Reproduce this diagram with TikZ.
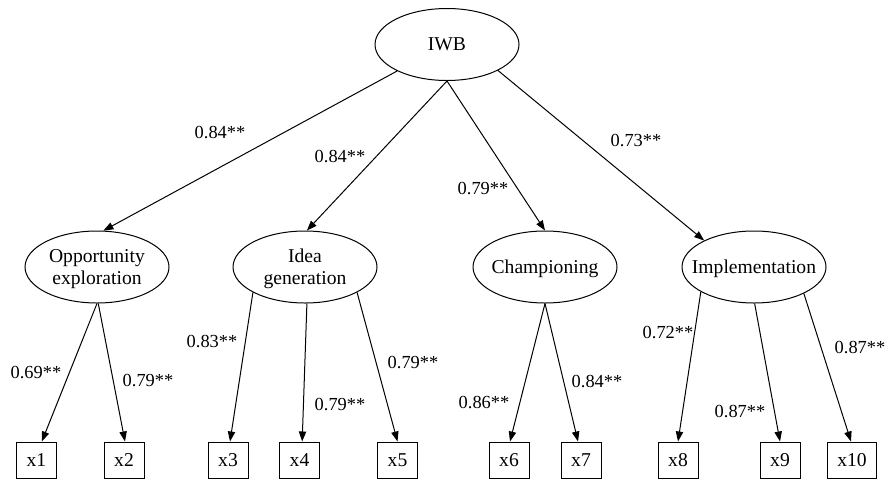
\documentclass[tikz,border=0pt]{standalone}
\usepackage{fontspec}
\setmainfont{Liberation Serif}
\newfontfamily\tms{Liberation Serif}
\usetikzlibrary{arrows.meta,shapes.geometric}
\begin{document}
\begin{tikzpicture}[x=0.75pt,y=-0.75pt,
  lat/.style={draw,ellipse,line width=0.75pt,minimum width=108pt,minimum height=54pt,inner sep=-12pt,align=center,text depth=-2.5pt,font=\tms\fontsize{14.7}{16.4}\selectfont},
  obs/.style={draw,rectangle,line width=0.75pt,minimum width=30pt,minimum height=27pt,inner xsep=7pt,inner ysep=0pt,font=\tms\fontsize{14.7}{16.5}\selectfont},
  lbl/.style={inner sep=0pt,font=\tms\fontsize{13.8}{16}\selectfont},
  conn/.style={-{Triangle[length=7.5pt,width=5.5pt]},line width=0.75pt}]
\useasboundingbox (0,0) rectangle (885,479);

% latent variables
\node[lat] (iwb) at (447,44.5) {IWB};
\node[lat,text depth=-3pt] (opp) at (97,267) {Opportunity\\exploration};
\node[lat,text depth=-3pt] (idea) at (305,267) {Idea\\generation};
\node[lat] (champ) at (545,267) {Championing};
\node[lat] (impl) at (754,267) {Implementation};

% observed variables
\node[obs] (x1) at (36.5,460) {x1};
\node[obs] (x2) at (124,460) {x2};
\node[obs] (x3) at (228,460) {x3};
\node[obs] (x4) at (299.5,460) {x4};
\node[obs] (x5) at (397.5,460) {x5};
\node[obs] (x6) at (509,460) {x6};
\node[obs] (x7) at (581,460) {x7};
\node[obs] (x8) at (678,460) {x8};
\node[obs] (x9) at (780,460) {x9};
\node[obs] (x10) at (852,460) {x10};

% connectors
\draw[conn] (iwb.208) -- (opp.80);
\draw[conn] (iwb.south) -- (idea.87);
\draw[conn] (iwb.south) -- (champ.north);
\draw[conn] (iwb.-27.5) -- (impl.152);

\draw[conn] (opp.south) -- ([xshift=4pt]x1.north);
\draw[conn] (opp.-88) -- ([xshift=0.75pt]x2.north);
\draw[conn] (idea.206.6) -- ([xshift=1.5pt]x3.north);
\draw[conn] (idea.-87) -- ([xshift=2pt]x4.north);
\draw[conn] (idea.-26.6) -- (x5.north);
\draw[conn] (champ.south) -- ([xshift=0.75pt]x6.north);
\draw[conn] (champ.south) -- ([xshift=-2.25pt]x7.north);
\draw[conn] (impl.205.7) -- (x8.north);
\draw[conn] (impl.-89) -- (x9.north);
\draw[conn] (impl.-28.9) -- ([xshift=-0.75pt]x10.north);

% labels
\node[lbl] (l1) at (220,133) {0.84**};
\node[lbl] (l2) at (340,157) {0.84**};
\node[lbl] (l3) at (483,189) {0.79**};
\node[lbl] (l4) at (636,141) {0.73**};
\node[lbl] (l5) at (36,373) {0.69**};
\node[lbl] (l6) at (148,381) {0.79**};
\node[lbl] (l7) at (212,342) {0.83**};
\node[lbl] (l8) at (340,405) {0.79**};
\node[lbl] (l9) at (413,363) {0.79**};
\node[lbl] (l10) at (484,403) {0.86**};
\node[lbl] (l11) at (597,382) {0.84**};
\node[lbl] (l12) at (668,333) {0.72**};
\node[lbl] (l13) at (740,412) {0.87**};
\node[lbl] (l14) at (860,348) {0.87**};
\end{tikzpicture}
\end{document}
